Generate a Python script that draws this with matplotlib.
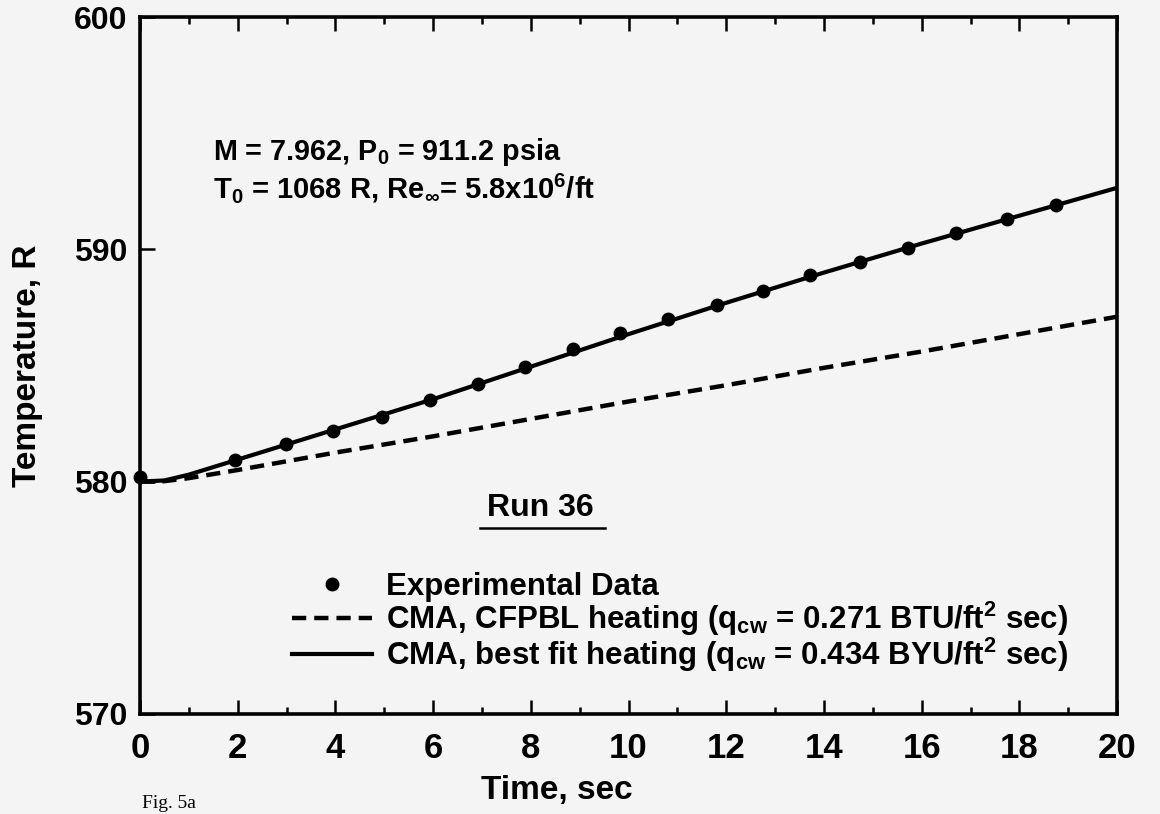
import matplotlib
matplotlib.use("Agg")
import matplotlib.pyplot as plt
from matplotlib.lines import Line2D

# ---- data ----
exp_time = [0.0, 1.94, 2.99, 3.95, 4.95, 5.94, 6.92, 7.88, 8.86, 9.83,
            10.81, 11.81, 12.75, 13.72, 14.74, 15.72, 16.70, 17.75, 18.75]
exp_temp = [580.2, 580.95, 581.6, 582.2, 582.8, 583.5, 584.2, 584.95, 585.7, 586.4,
            587.0, 587.6, 588.2, 588.9, 589.45, 590.07, 590.7, 591.3, 591.9]

model_time = [0.0, 0.5, 1.0, 2.0, 4.0, 6.0, 8.0, 10.0, 12.0, 14.0, 16.0, 18.0, 20.0]
cfpbl_temp = [580.0, 580.02, 580.15, 580.5, 581.25, 581.95, 582.7, 583.45, 584.15,
              584.9, 585.6, 586.35, 587.1]
bestfit_temp = [580.0, 580.05, 580.3, 580.95, 582.25, 583.55, 584.95, 586.35, 587.7,
                589.0, 590.25, 591.45, 592.65]

x_major = [0, 2, 4, 6, 8, 10, 12, 14, 16, 18, 20]
x_minor = [1, 3, 5, 7, 9, 11, 13, 15, 17, 19]
y_major = [570, 580, 590, 600]

lbl_exp = "Experimental Data"
lbl_cfpbl = "CMA, CFPBL heating (q$_{cw}$ = 0.271 BTU/ft$^2$ sec)"
lbl_best = "CMA, best fit heating (q$_{cw}$ = 0.434 BYU/ft$^2$ sec)"
note1 = "M = 7.962, P$_0$ = 911.2 psia"
note2 = "T$_0$ = 1068 R, Re$_\\infty$= 5.8x10$^6$/ft"
run_label = "Run 36"

# ---- style ----
plt.rcParams['font.family'] = ['Liberation Sans', 'DejaVu Sans']
plt.rcParams['font.weight'] = 'bold'
plt.rcParams['mathtext.fontset'] = 'custom'
plt.rcParams['mathtext.rm'] = 'Liberation Sans:bold'
plt.rcParams['mathtext.it'] = 'Liberation Sans:bold'
plt.rcParams['mathtext.bf'] = 'Liberation Sans:bold'
plt.rcParams['mathtext.default'] = 'rm'

bg = '#f4f4f4'
fig = plt.figure(figsize=(11.6, 8.14), dpi=100, facecolor=bg)
ax = fig.add_axes([0.1207, 0.123, 0.8423, 0.856])
ax.set_facecolor(bg)

ax.plot(model_time, cfpbl_temp, color='black', lw=3.2, ls=(0, (3.2, 1.8)),
        dash_capstyle='butt', solid_capstyle='butt')
ax.plot(model_time, bestfit_temp, color='black', lw=3.0)
ax.plot(exp_time, exp_temp, 'o', color='black', ms=9, clip_on=False, zorder=5)

ax.set_xlim(0, 20)
ax.set_ylim(570, 600)

for s in ax.spines.values():
    s.set_linewidth(2.6)

ax.set_xticks(x_major)
ax.set_xticks(x_minor, minor=True)
ax.set_yticks(y_major)
ax.tick_params(axis='x', which='major', direction='in', length=10, width=1.8,
               top=True, labelsize=25, pad=13)
ax.tick_params(axis='x', which='minor', direction='in', length=5, width=1.8, top=True)
ax.tick_params(axis='y', which='major', direction='in', length=11, width=1.8,
               right=False, labelsize=23, pad=9)
for t in ax.get_xticklabels() + ax.get_yticklabels():
    t.set_fontweight('bold')

ax.set_xlabel("Time, sec", fontsize=24, fontweight='bold')
ax.xaxis.set_label_coords(0.427, -0.088, transform=ax.transAxes)
ax.xaxis.label.set_va('top')
ax.set_ylabel("Temperature, R", fontsize=24, fontweight='bold', labelpad=22)

ax.text(1.5, 593.85, note1, fontsize=20.7, fontweight='bold', va='baseline', ha='left')
ax.text(1.5, 592.2, note2, fontsize=21, fontweight='bold', va='baseline', ha='left')

ax.text(8.2, 578.85, run_label, fontsize=23, fontweight='bold', va='center', ha='center')
ax.plot([6.95, 9.52], [578.0, 578.0], color='black', lw=1.8)

handles = [
    Line2D([], [], marker='o', ls='none', color='black', ms=9),
    Line2D([], [], color='black', lw=3.2, ls=(0, (3.2, 1.8))),
    Line2D([], [], color='black', lw=3.0),
]
leg = ax.legend(handles, [lbl_exp, lbl_cfpbl, lbl_best], loc='upper left',
                bbox_to_anchor=(0.1556, 0.203), frameon=False,
                handlelength=2.55, handletextpad=0.45, borderpad=0, borderaxespad=0,
                labelspacing=-0.08, prop={'weight': 'bold', 'size': 22.5})

fig.text(0.122, 0.002, "Fig. 5a", fontsize=14, ha='left', va='bottom',
         fontweight='normal', family=['Liberation Serif', 'DejaVu Serif'])

fig.savefig("out.png", dpi=100, facecolor=bg)
